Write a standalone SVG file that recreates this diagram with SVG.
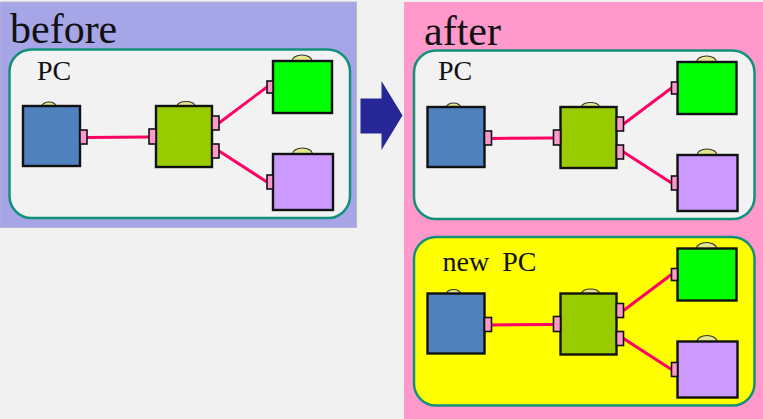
<svg xmlns="http://www.w3.org/2000/svg" xmlns:xlink="http://www.w3.org/1999/xlink" width="763" height="419" viewBox="0 0 763 419">
  <style>
    .title { font-family: "Liberation Serif", "Times New Roman", serif; fill: #111; }
    .big { font-size: 42px; }
    .label { font-size: 28px; }
    .pc { stroke: #12907A; stroke-width: 2.5; }
    .box { stroke: #111; stroke-width: 2.4; }
    .handle { fill: #E6E68A; stroke: #333; stroke-width: 1.2; }
    .port { fill: #FF99CC; stroke: #111; stroke-width: 1.6; }
    .wire { stroke: #FF0066; stroke-width: 3; fill: none; }
  </style>
  <defs>
    <!-- devices, drawn in the coordinates of the first PC frame -->
    <g id="dev-blue">
      <path class="handle" d="M42,106 a7,4 0 0 1 14,0 z"/>
      <rect class="box" x="23" y="106" width="57" height="60" fill="#4F81BD"/>
      <rect class="port" x="80" y="130" width="7" height="14"/>
    </g>
    <g id="dev-hub">
      <path class="handle" d="M177,106 a9,4.5 0 0 1 18,0 z"/>
      <rect class="box" x="156" y="106" width="56" height="61" fill="#99CC00"/>
      <rect class="port" x="149" y="129" width="7" height="15"/>
      <rect class="port" x="212" y="116" width="7" height="14"/>
      <rect class="port" x="212" y="144" width="7" height="14"/>
    </g>
    <g id="dev-green">
      <path class="handle" d="M292,61 a10,6 0 0 1 20,0 z"/>
      <rect class="box" x="273" y="61" width="59" height="52" fill="#00FF00"/>
      <rect class="port" x="267" y="81" width="6" height="12"/>
    </g>
    <g id="dev-purple">
      <path class="handle" d="M292.5,154 a10,6 0 0 1 20,0 z"/>
      <rect class="box" x="273" y="154" width="60" height="56" fill="#CC99FF"/>
      <rect class="port" x="267" y="175" width="6" height="14"/>
    </g>
    <g id="wires">
      <line class="wire" x1="87" y1="137.5" x2="149" y2="137"/>
      <line class="wire" x1="219" y1="123" x2="267" y2="87"/>
      <line class="wire" x1="219" y1="151" x2="267" y2="182"/>
    </g>
  </defs>

  <rect x="0" y="0" width="763" height="419" fill="#F1F1F1"/>

  <!-- before panel -->
  <g id="before">
    <rect x="0" y="2" width="356.5" height="225.5" fill="#A5A5E8" stroke="#B8B8C8" stroke-width="1"/>
    <text class="title big" x="10" y="43">before</text>
    <g id="before-pc">
      <rect class="pc" x="9.5" y="49.5" width="340.5" height="168.5" rx="22" fill="#F2F2F2"/>
      <text class="title label" x="37" y="80">PC</text>
    </g>
    <g id="before-connectors"><use xlink:href="#wires"/></g>
    <g id="before-blue"><use xlink:href="#dev-blue"/></g>
    <g id="before-hub"><use xlink:href="#dev-hub"/></g>
    <g id="before-green"><use xlink:href="#dev-green"/></g>
    <g id="before-purple"><use xlink:href="#dev-purple"/></g>
  </g>

  <!-- transition arrow -->
  <g id="arrow">
    <polygon points="360.5,98.5 381.5,98.5 381.5,81 402.5,115.5 381.5,150 381.5,133.5 360.5,133.5" fill="#262696"/>
  </g>

  <!-- after panel -->
  <g id="after">
    <rect x="404" y="2" width="360" height="418" fill="#FF99CC"/>
    <text class="title big" x="424" y="45">after</text>
    <g transform="translate(404.5,1)">
      <g id="after-pc">
        <rect class="pc" x="9.5" y="49.5" width="340.5" height="168.5" rx="22" fill="#F2F2F2"/>
        <text class="title label" x="33.5" y="79">PC</text>
      </g>
      <g id="after-connectors"><use xlink:href="#wires"/></g>
      <g id="after-blue"><use xlink:href="#dev-blue"/></g>
      <g id="after-hub"><use xlink:href="#dev-hub"/></g>
      <g id="after-green"><use xlink:href="#dev-green"/></g>
      <g id="after-purple"><use xlink:href="#dev-purple"/></g>
    </g>
    <g transform="translate(404.5,187.5)">
      <g id="new-pc">
        <rect class="pc" x="9.5" y="49.5" width="340.5" height="168.5" rx="22" fill="#FFFF00"/>
        <text class="title label" x="38" y="83" word-spacing="6">new PC</text>
      </g>
      <g id="new-connectors"><use xlink:href="#wires"/></g>
      <g id="new-blue"><use xlink:href="#dev-blue"/></g>
      <g id="new-hub"><use xlink:href="#dev-hub"/></g>
      <g id="new-green"><use xlink:href="#dev-green"/></g>
      <g id="new-purple"><use xlink:href="#dev-purple"/></g>
    </g>
  </g>
</svg>
